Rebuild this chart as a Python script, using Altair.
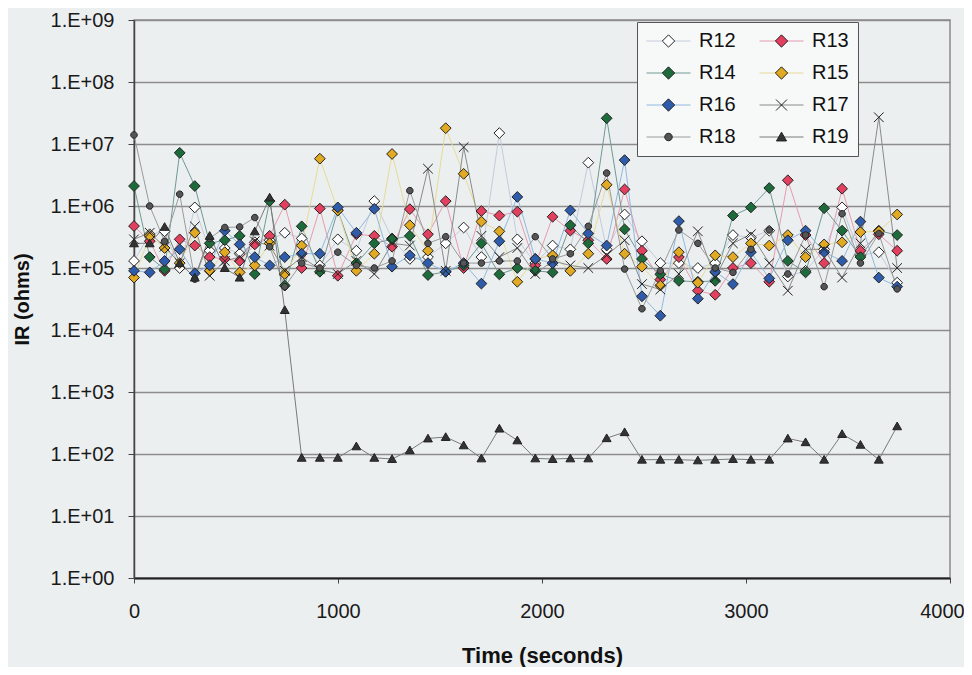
import altair as alt
import pandas as pd

# ---------------- data ----------------
times = [0, 77, 150, 224, 298, 371, 445, 518, 592, 665, 739, 822, 911, 999, 1090,
         1178, 1265, 1352, 1441, 1528, 1616, 1703, 1791, 1879, 1967, 2052, 2139,
         2227, 2317, 2405, 2490, 2580, 2671, 2764, 2849, 2936, 3024, 3114, 3205,
         3292, 3383, 3471, 3561, 3651, 3741]

r12 = [1.3e5, 3.5e5, 3.9e5, 1.0e5, 9.5e5, 1.9e5, 2.1e5, 1.7e5, 2.6e5, 2.8e5, 3.7e5,
       3.0e5, 1.1e5, 2.9e5, 1.9e5, 1.2e6, 3.0e5, 1.4e5, 1.5e5, 2.5e5, 4.5e5, 1.5e5,
       1.5e7, 2.9e5, 1.2e5, 2.3e5, 2.0e5, 5.0e6, 2.0e5, 7.3e5, 2.7e5, 1.2e5, 1.2e5,
       1.0e5, 1.2e5, 3.4e5, 3.1e5, 4.0e5, 7.3e4, 9.0e4, 2.0e5, 9.5e5, 1.6e5, 1.8e5,
       5.8e4]
r13 = [4.75e5, 2.7e5, 9.0e4, 2.9e5, 2.3e5, 1.5e5, 1.4e5, 1.3e5, 2.4e5, 3.3e5, 1.05e6,
       1.0e5, 9.1e5, 7.5e4, 3.5e5, 3.3e5, 2.2e5, 8.9e5, 3.5e5, 1.2e6, 1.0e5, 8.3e5,
       7.0e5, 8.1e5, 1.1e5, 6.7e5, 4.0e5, 2.8e5, 1.4e5, 1.85e6, 1.9e5, 6.5e4, 1.5e5,
       4.3e4, 3.7e4, 1.0e5, 1.2e5, 6.0e4, 2.6e6, 3.4e5, 1.2e5, 1.9e6, 1.9e5, 3.5e5,
       1.9e5]
r14 = [2.1e6, 1.5e5, 9.5e4, 7.2e6, 2.1e6, 2.5e5, 2.8e5, 3.3e5, 8.0e4, 1.2e6, 5.2e4,
       4.7e5, 8.7e4, 8.5e5, 1.2e5, 2.5e5, 2.9e5, 3.3e5, 7.7e4, 8.7e4, 1.1e5, 2.5e5,
       7.9e4, 1.0e5, 9.0e4, 8.5e4, 4.9e5, 2.5e5, 2.6e7, 4.2e5, 1.4e5, 7.9e4, 6.2e4,
       6.0e4, 6.2e4, 7.0e5, 9.5e5, 1.95e6, 1.3e5, 8.5e4, 9.2e5, 4.0e5, 1.5e5, 4.0e5,
       3.4e5]
r15 = [7.0e4, 3.3e5, 2.1e5, 1.2e5, 3.7e5, 9.0e4, 1.8e5, 8.5e4, 1.1e5, 2.5e5, 8.0e4,
       2.3e5, 5.8e6, 8.5e5, 9.0e4, 1.7e5, 6.9e6, 4.9e5, 1.9e5, 1.8e7, 3.3e6, 5.6e5,
       3.9e5, 6.0e4, 1.4e5, 1.6e5, 9.0e4, 1.7e5, 2.2e6, 1.7e5, 1.05e5, 5.2e4, 1.8e5,
       5.8e4, 1.6e5, 1.5e5, 2.5e5, 2.3e5, 3.4e5, 1.5e5, 2.4e5, 2.6e5, 3.8e5, 3.9e5,
       7.3e5]
r16 = [9.0e4, 8.5e4, 1.3e5, 2.0e5, 8.2e4, 1.1e5, 4.0e5, 2.4e5, 1.5e5, 1.1e5, 1.5e5,
       1.7e5, 1.7e5, 9.5e5, 3.7e5, 9.0e5, 1.05e5, 1.6e5, 1.2e5, 8.7e4, 1.2e5, 5.6e4,
       2.7e5, 1.4e6, 1.4e5, 1.2e5, 8.5e5, 3.6e5, 2.3e5, 5.5e6, 3.5e4, 1.7e4, 5.7e5,
       3.2e4, 8.7e4, 5.5e4, 1.8e5, 6.8e4, 2.8e5, 4.0e5, 1.8e5, 1.3e5, 5.6e5, 7.0e4,
       5.0e4]
r17 = [2.9e5, 3.7e5, 2.2e5, 1.2e5, 4.7e5, 7.5e4, 1.3e5, 1.5e5, 2.7e5, 2.3e5, 9.0e4,
       1.5e5, 9.5e4, 8.0e4, 1.3e5, 8.0e4, 2.5e5, 2.3e5, 4.0e6, 9.0e4, 8.9e6, 3.3e5,
       1.5e5, 2.1e5, 8.0e4, 1.3e5, 1.1e5, 1.0e5, 1.6e5, 2.8e5, 5.5e4, 4.5e4, 8.0e4,
       3.9e5, 7.0e4, 2.5e5, 3.5e5, 1.2e5, 4.3e4, 2.0e5, 2.0e5, 7.0e4, 2.5e5, 2.7e7,
       1.0e5]
r18 = [1.4e7, 1.0e6, 2.7e5, 1.55e6, 6.6e4, 3.0e5, 4.5e5, 4.6e5, 6.5e5, 2.2e5, 5.0e4,
       1.2e5, 1.0e5, 1.8e5, 1.1e5, 1.0e5, 1.3e5, 1.77e6, 2.5e5, 3.2e5, 1.2e5, 1.2e5,
       1.3e5, 1.3e5, 3.2e5, 1.4e5, 1.7e5, 4.7e5, 3.4e6, 9.6e4, 2.2e4, 9.0e4, 4.1e5,
       2.5e5, 1.0e5, 8.5e4, 2.0e5, 4.1e5, 8.0e4, 3.4e5, 5.0e4, 7.5e5, 1.2e5, 3.6e5,
       4.6e4]
r19 = [2.5e5, 2.5e5, 4.6e5, 1.2e5, 7.0e4, 3.3e5, 1.0e5, 7.0e4, 3.9e5, 1.37e6, 2.1e4,
       87, 87, 87, 133, 87, 83, 115, 178, 188, 138, 85, 257, 166, 85, 83, 85, 85,
       180, 225, 81, 81, 81, 79, 81, 83, 81, 81, 178, 155, 81, 210, 141, 81, 280]

series_names = ["R12", "R13", "R14", "R15", "R16", "R17", "R18", "R19"]
series_values = [r12, r13, r14, r15, r16, r17, r18, r19]

line_colors = ["#c3cbdc", "#e79aae", "#6f9a92", "#e6dc96", "#8fb8e2", "#8a8a8a", "#9a9a9a", "#7a7a7a"]
fill_colors = ["#ffffff", "#e2405e", "#1d6b3b", "#e2aa22", "#2f5caa", "#222222", "#555555", "#333333"]
marker_widths = [1, 1, 1, 1, 1, 1.7, 1, 1]
shape_paths = [
    "M0,-0.28L0.28,0L0,0.28L-0.28,0Z",
    "M0,-0.28L0.28,0L0,0.28L-0.28,0Z",
    "M0,-0.28L0.28,0L0,0.28L-0.28,0Z",
    "M0,-0.28L0.28,0L0,0.28L-0.28,0Z",
    "M0,-0.28L0.28,0L0,0.28L-0.28,0Z",
    "M-0.25,-0.25L0.25,0.25M-0.25,0.25L0.25,-0.25",
    "M-0.17,0A0.17,0.17,0,1,0,0.17,0A0.17,0.17,0,1,0,-0.17,0Z",
    "M0,-0.22L0.23,0.18L-0.23,0.18Z",
]

rows = []
for name, vals in zip(series_names, series_values):
    for t, v in zip(times, vals):
        rows.append({"series": name, "time": t, "ir": v})
df = pd.DataFrame(rows)

FONT = "Liberation Sans"

common_legend = dict(
    title=None, orient="none", legendX=503, legendY=2, columns=2, direction="horizontal",
    symbolSize=1936, symbolStrokeWidth=1, clipHeight=20, rowPadding=12, columnPadding=23,
    labelOffset=8, labelFont=FONT, labelFontSize=20, labelColor="#111111",
    labelLimit=200, padding=9,
)

legend_lines = alt.Legend(symbolType="stroke", fillColor="#f7f9f9",
                          strokeColor="#555555", **common_legend)
legend_marks = alt.Legend(symbolOpacity=1, labelOpacity=0, **common_legend)

x_enc = alt.X("time:Q", scale=alt.Scale(domain=[0, 4000], nice=False),
              axis=alt.Axis(values=[0, 1000, 2000, 3000, 4000], format="d", grid=False,
                            tickSize=5, tickColor="#444444", tickWidth=1,
                            labelPadding=18, labelFontSize=20, labelFont=FONT,
                            labelColor="#1a1a1a", labelFlush=False, labelOverlap=False,
                            labelOffset={"condition": {"test": "datum.value >= 4000", "value": -8},
                                         "value": 0},
                            domainColor="#222222", domainWidth=2,
                            title="Time (seconds)", titleFont=FONT, titleFontSize=22,
                            titleFontWeight="bold", titleColor="#111111",
                            titleY=84, titleBaseline="alphabetic"))

y_ticks = [1, 10, 100, 1e3, 1e4, 1e5, 1e6, 1e7, 1e8, 1e9]
y_enc = alt.Y("ir:Q", scale=alt.Scale(type="log", domain=[1, 1e9], nice=False),
              axis=alt.Axis(values=y_ticks, grid=True, gridColor="#8c8c8c", gridWidth=1.5,
                            tickSize=6, tickColor="#444444", labelPadding=14,
                            labelFontSize=20, labelFont=FONT, labelColor="#1a1a1a",
                            labelExpr="'1.E+' + (datum.value < 1e10 ? '0' : '') + format(log(datum.value)/LN10, '.0f')",
                            domainColor="#444444", domainWidth=1.5,
                            title="IR (ohms)", titleFont=FONT, titleFontSize=20,
                            titleFontWeight="bold", titleColor="#111111",
                            titleX=-112, titleY=279, titleAngle=270,
                            titleBaseline="middle", titleAlign="center"))

lines = alt.Chart(df).mark_line(strokeWidth=1).encode(
    x=x_enc, y=y_enc,
    color=alt.Color("series:N", scale=alt.Scale(domain=series_names, range=line_colors),
                    legend=legend_lines),
)

points = alt.Chart(df).mark_point(filled=True, stroke="#222222", strokeWidth=1,
                                  opacity=1, size=1480).encode(
    x=x_enc, y=y_enc,
    fill=alt.Fill("series:N", scale=alt.Scale(range=fill_colors), legend=legend_marks),
    shape=alt.Shape("series:N", scale=alt.Scale(range=shape_paths), legend=legend_marks),
    strokeWidth=alt.StrokeWidth("series:N", scale=alt.Scale(domain=series_names, range=marker_widths),
                                legend=None),
)

chart = alt.layer(lines, points).properties(
    width=816, height=558,
    autosize=alt.AutoSizeParams(type="none"),
    padding={"left": 126, "top": 12, "right": 14, "bottom": 89},
    background="#eceff0",
).configure_view(stroke="#8c8c8c", strokeWidth=1.5)

chart.save("out.html", embed_options={"renderer": "svg", "actions": False})
